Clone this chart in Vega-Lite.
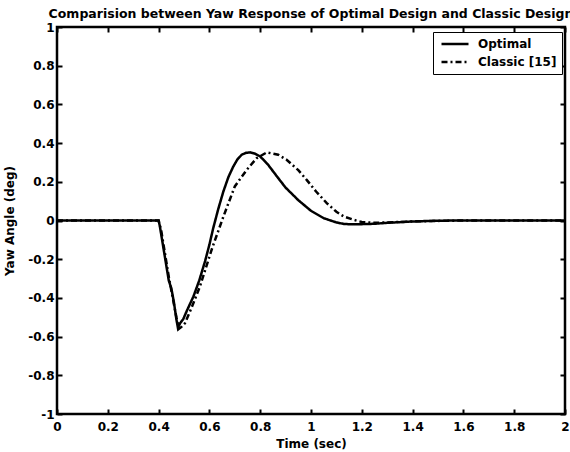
{
  "$schema": "https://vega.github.io/schema/vega-lite/v6.json",
  "autosize": {"type": "none"},
  "padding": {"left": 57, "top": 27, "right": 5, "bottom": 38},
  "width": 508,
  "height": 387,
  "title": {"text": "Comparision between Yaw Response of Optimal Design and Classic Design", "font": "DejaVu Sans", "fontSize": 12.5, "fontWeight": "bold", "color": "black", "anchor": "middle", "offset": 1},
  "config": {
    "view": {"stroke": "black", "strokeWidth": 2.5},
    "axis": {"grid": false, "domain": false, "tickColor": "black", "tickWidth": 2, "tickSize": -5, "labelFont": "DejaVu Sans", "labelFontWeight": "bold", "labelFontSize": 12, "labelColor": "black", "titleFont": "DejaVu Sans", "titleFontWeight": "bold", "titleFontSize": 12, "titleColor": "black"}
  },
  "data": {"values": [
    {"t": 0, "v": 0, "s": "Optimal"},
    {"t": 0.4, "v": 0, "s": "Optimal"},
    {"t": 0.405, "v": -0.03, "s": "Optimal"},
    {"t": 0.42, "v": -0.15, "s": "Optimal"},
    {"t": 0.43, "v": -0.23, "s": "Optimal"},
    {"t": 0.44, "v": -0.31, "s": "Optimal"},
    {"t": 0.445, "v": -0.33, "s": "Optimal"},
    {"t": 0.45, "v": -0.35, "s": "Optimal"},
    {"t": 0.46, "v": -0.42, "s": "Optimal"},
    {"t": 0.47, "v": -0.51, "s": "Optimal"},
    {"t": 0.476, "v": -0.555, "s": "Optimal"},
    {"t": 0.485, "v": -0.53, "s": "Optimal"},
    {"t": 0.497, "v": -0.51, "s": "Optimal"},
    {"t": 0.51, "v": -0.47, "s": "Optimal"},
    {"t": 0.537, "v": -0.393, "s": "Optimal"},
    {"t": 0.56, "v": -0.31, "s": "Optimal"},
    {"t": 0.583, "v": -0.21, "s": "Optimal"},
    {"t": 0.6, "v": -0.125, "s": "Optimal"},
    {"t": 0.615, "v": -0.04, "s": "Optimal"},
    {"t": 0.635, "v": 0.06, "s": "Optimal"},
    {"t": 0.655, "v": 0.15, "s": "Optimal"},
    {"t": 0.675, "v": 0.225, "s": "Optimal"},
    {"t": 0.694, "v": 0.279, "s": "Optimal"},
    {"t": 0.71, "v": 0.315, "s": "Optimal"},
    {"t": 0.727, "v": 0.34, "s": "Optimal"},
    {"t": 0.745, "v": 0.35, "s": "Optimal"},
    {"t": 0.76, "v": 0.352, "s": "Optimal"},
    {"t": 0.78, "v": 0.345, "s": "Optimal"},
    {"t": 0.8, "v": 0.331, "s": "Optimal"},
    {"t": 0.83, "v": 0.29, "s": "Optimal"},
    {"t": 0.871, "v": 0.219, "s": "Optimal"},
    {"t": 0.9, "v": 0.17, "s": "Optimal"},
    {"t": 0.95, "v": 0.105, "s": "Optimal"},
    {"t": 1.0, "v": 0.05, "s": "Optimal"},
    {"t": 1.05, "v": 0.012, "s": "Optimal"},
    {"t": 1.1, "v": -0.01, "s": "Optimal"},
    {"t": 1.13, "v": -0.018, "s": "Optimal"},
    {"t": 1.17, "v": -0.02, "s": "Optimal"},
    {"t": 1.25, "v": -0.017, "s": "Optimal"},
    {"t": 1.3, "v": -0.012, "s": "Optimal"},
    {"t": 1.4, "v": -0.005, "s": "Optimal"},
    {"t": 1.5, "v": -0.001, "s": "Optimal"},
    {"t": 1.6, "v": 0, "s": "Optimal"},
    {"t": 2.0, "v": 0, "s": "Optimal"},
    {"t": 0, "v": 0, "s": "Classic [15]"},
    {"t": 0.4, "v": 0, "s": "Classic [15]"},
    {"t": 0.41, "v": -0.05, "s": "Classic [15]"},
    {"t": 0.42, "v": -0.13, "s": "Classic [15]"},
    {"t": 0.43, "v": -0.21, "s": "Classic [15]"},
    {"t": 0.44, "v": -0.29, "s": "Classic [15]"},
    {"t": 0.45, "v": -0.36, "s": "Classic [15]"},
    {"t": 0.46, "v": -0.43, "s": "Classic [15]"},
    {"t": 0.47, "v": -0.5, "s": "Classic [15]"},
    {"t": 0.48, "v": -0.56, "s": "Classic [15]"},
    {"t": 0.49, "v": -0.55, "s": "Classic [15]"},
    {"t": 0.504, "v": -0.53, "s": "Classic [15]"},
    {"t": 0.53, "v": -0.45, "s": "Classic [15]"},
    {"t": 0.563, "v": -0.34, "s": "Classic [15]"},
    {"t": 0.609, "v": -0.15, "s": "Classic [15]"},
    {"t": 0.655, "v": 0.02, "s": "Classic [15]"},
    {"t": 0.7, "v": 0.176, "s": "Classic [15]"},
    {"t": 0.747, "v": 0.262, "s": "Classic [15]"},
    {"t": 0.786, "v": 0.322, "s": "Classic [15]"},
    {"t": 0.826, "v": 0.352, "s": "Classic [15]"},
    {"t": 0.871, "v": 0.34, "s": "Classic [15]"},
    {"t": 0.904, "v": 0.314, "s": "Classic [15]"},
    {"t": 0.95, "v": 0.26, "s": "Classic [15]"},
    {"t": 0.983, "v": 0.21, "s": "Classic [15]"},
    {"t": 1.02, "v": 0.15, "s": "Classic [15]"},
    {"t": 1.062, "v": 0.09, "s": "Classic [15]"},
    {"t": 1.1, "v": 0.045, "s": "Classic [15]"},
    {"t": 1.13, "v": 0.02, "s": "Classic [15]"},
    {"t": 1.167, "v": 0.004, "s": "Classic [15]"},
    {"t": 1.2, "v": -0.008, "s": "Classic [15]"},
    {"t": 1.25, "v": -0.012, "s": "Classic [15]"},
    {"t": 1.3, "v": -0.01, "s": "Classic [15]"},
    {"t": 1.4, "v": -0.005, "s": "Classic [15]"},
    {"t": 1.5, "v": -0.002, "s": "Classic [15]"},
    {"t": 1.6, "v": 0, "s": "Classic [15]"},
    {"t": 2.0, "v": 0, "s": "Classic [15]"}
  ]},
  "layer": [
    {
      "transform": [{"filter": "datum.s === 'Optimal'"}],
      "mark": {"type": "line", "color": "black", "strokeWidth": 2.5},
      "encoding": {
        "x": {"field": "t", "type": "quantitative", "scale": {"domain": [0, 2], "nice": false}, "axis": {"orient": "bottom", "title": "Time (sec)", "values": [0, 0.2, 0.4, 0.6, 0.8, 1, 1.2, 1.4, 1.6, 1.8, 2], "labelExpr": "'' + datum.value", "labelPadding": 12, "titleY": 24, "labelFlush": false}},
        "y": {"field": "v", "type": "quantitative", "scale": {"domain": [-1, 1], "nice": false}, "axis": {"orient": "left", "title": "Yaw Angle (deg)", "values": [-1, -0.8, -0.6, -0.4, -0.2, 0, 0.2, 0.4, 0.6, 0.8, 1], "labelExpr": "'' + datum.value", "labelPadding": 8, "titleX": -41, "labelFlush": false}},
        "strokeDash": {"field": "s", "type": "nominal", "scale": {"domain": ["Optimal", "Classic [15]"], "range": [[1, 0], [6, 3, 2, 3]]}, "legend": {"orient": "none", "legendX": 376, "legendY": 5, "title": null, "strokeColor": "black", "fillColor": "white", "padding": 5, "symbolType": "stroke", "symbolSize": 729, "symbolStrokeWidth": 2.5, "symbolStrokeColor": "black", "symbolOffset": 2, "labelFont": "DejaVu Sans", "labelFontWeight": "bold", "labelFontSize": 12, "labelColor": "black", "clipHeight": 14, "rowPadding": 4, "labelOffset": 8}}
      }
    },
    {
      "transform": [{"filter": "datum.s === 'Classic [15]'"}],
      "mark": {"type": "line", "color": "black", "strokeWidth": 2.5},
      "encoding": {
        "x": {"field": "t", "type": "quantitative", "scale": {"domain": [0, 2], "nice": false}, "axis": {"orient": "top", "title": null, "labels": false, "values": [0, 0.2, 0.4, 0.6, 0.8, 1, 1.2, 1.4, 1.6, 1.8, 2]}},
        "y": {"field": "v", "type": "quantitative", "scale": {"domain": [-1, 1], "nice": false}, "axis": {"orient": "right", "title": null, "labels": false, "values": [-1, -0.8, -0.6, -0.4, -0.2, 0, 0.2, 0.4, 0.6, 0.8, 1]}},
        "strokeDash": {"field": "s", "type": "nominal", "scale": {"domain": ["Optimal", "Classic [15]"], "range": [[1, 0], [6, 3, 2, 3]]}}
      }
    }
  ],
  "resolve": {"axis": {"x": "independent", "y": "independent"}}
}
